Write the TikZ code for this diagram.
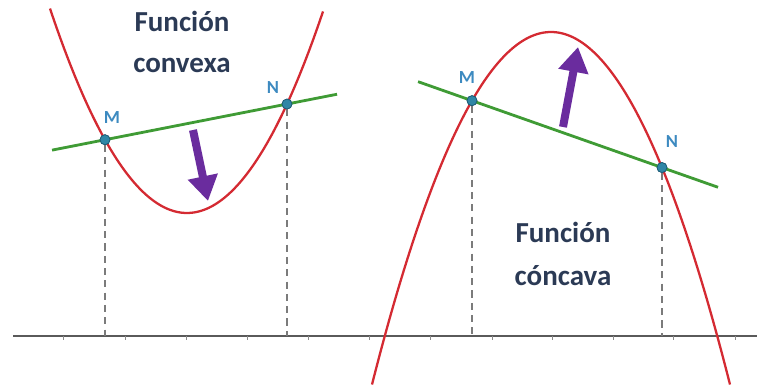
\documentclass[tikz,border=0pt]{standalone}
\usepackage{fontspec}
\setmainfont{Carlito}
\usetikzlibrary{arrows.meta,calc}
\definecolor{curvered}{HTML}{D42A32}
\definecolor{secgreen}{HTML}{3F9B35}
\definecolor{arrpurple}{HTML}{6A2C9E}
\definecolor{titlenavy}{HTML}{2B3A55}
\definecolor{ptblue}{HTML}{3D8AC0}
\definecolor{dotfill}{HTML}{2F86A6}
\definecolor{dotline}{HTML}{1D5B75}
\definecolor{axisgray}{HTML}{5A5A5A}
\begin{document}
\begin{tikzpicture}[x=0.02cm,y=-0.02cm,
  curve/.style={curvered,line width=1.3pt},
  secant/.style={secgreen,line width=1.6pt},
  guide/.style={axisgray!80,line width=0.6pt,dash pattern=on 4pt off 3pt},
  axisline/.style={axisgray,line width=0.7pt},
  tickmark/.style={axisgray!70,line width=0.5pt},
  bigarrow/.style={arrpurple,line width=0.16cm,-{Triangle[width=0.58cm,length=0.5cm]}},
  pt/.style={circle,fill=dotfill,draw=dotline,line width=0.4pt,inner sep=0pt,minimum size=0.2cm},
  ptlabel/.style={text=ptblue,font=\fontsize{10.5}{12}\selectfont\bfseries},
  title/.style={text=titlenavy,font=\fontsize{16.5}{20}\selectfont\bfseries,anchor=base,inner sep=0pt}]
\useasboundingbox (0,0) rectangle (757,385);
% axis
\coordinate (axL) at (13,336);
\coordinate (axR) at (757,336);
\draw[axisline] (axL) -- (axR);
\foreach \t in {63,125,186,247,308,369,430,492,552,613,673,735}
  \draw[tickmark] (\t,336) -- (\t,339.5);
% left: convex
\draw[curve] plot[domain=50:323,samples=80,smooth] (\x,{213-0.0109*(\x-187)*(\x-187)});
\node[pt] (M1) at (105,{213-0.0109*82*82}) {};
\node[pt] (N1) at (287,{213-0.0109*100*100}) {};
\draw[secant] ($(M1)!-0.291!(N1)$) -- ($(N1)!-0.275!(M1)$);
\draw[guide] (M1) -- (M1 |- axL);
\draw[guide] (N1) -- (N1 |- axL);
\node[pt] at (M1) {};
\node[pt] at (N1) {};
\node[ptlabel] (lM1) at (112,118) {M};
\node[ptlabel] (lN1) at (273,88) {N};
\coordinate (a1s) at (193,130);
\coordinate (a1e) at (208,201);
\draw[bigarrow] (a1s) -- (a1e);
\node[title] (t1a) at (182,32) {Función};
\node[title] (t1b) at (182,72) {convexa};
% right: concave
\draw[curve] plot[domain=372:730,samples=80,smooth] (\x,{32+0.011*(\x-551)*(\x-551)});
\node[pt] (M2) at (472,{32+0.011*79*79}) {};
\node[pt] (N2) at (662,{32+0.011*111*111}) {};
\draw[secant] ($(M2)!-0.284!(N2)$) -- ($(N2)!-0.295!(M2)$);
\draw[guide] (M2) -- (M2 |- axL);
\draw[guide] (N2) -- (N2 |- axL);
\node[pt] at (M2) {};
\node[pt] at (N2) {};
\node[ptlabel] (lM2) at (467,78) {M};
\node[ptlabel] (lN2) at (672,142) {N};
\coordinate (a2s) at (563,127);
\coordinate (a2e) at (578,47);
\draw[bigarrow] (a2s) -- (a2e);
\node[title] (t2a) at (563,242) {Función};
\node[title] (t2b) at (563,285) {cóncava};
\end{tikzpicture}
\end{document}
